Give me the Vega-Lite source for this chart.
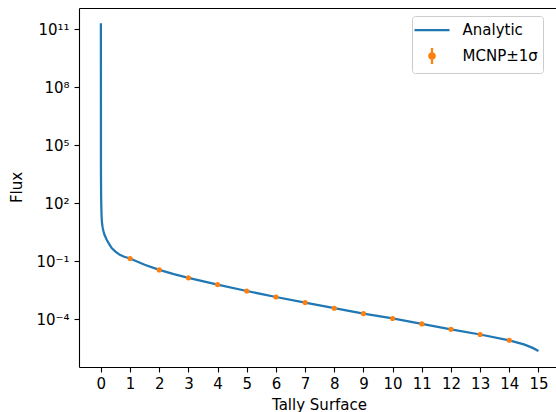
{
  "$schema": "https://vega.github.io/schema/vega-lite/v6.json",
  "width": 477,
  "height": 359,
  "autosize": "none",
  "padding": {"left": 79, "top": 8, "right": 0, "bottom": 45},
  "background": "white",
  "datasets": {
    "analytic": [
      {"x": 0, "flux": 2.0e11, "series": "Analytic"},
      {"x": 0.003, "flux": 3162, "series": "Analytic"},
      {"x": 0.008, "flux": 251, "series": "Analytic"},
      {"x": 0.015, "flux": 63, "series": "Analytic"},
      {"x": 0.024, "flux": 20.9, "series": "Analytic"},
      {"x": 0.04, "flux": 8.9, "series": "Analytic"},
      {"x": 0.06, "flux": 5.6, "series": "Analytic"},
      {"x": 0.08, "flux": 4.0, "series": "Analytic"},
      {"x": 0.12, "flux": 2.4, "series": "Analytic"},
      {"x": 0.2, "flux": 1.29, "series": "Analytic"},
      {"x": 0.28, "flux": 0.79, "series": "Analytic"},
      {"x": 0.37, "flux": 0.48, "series": "Analytic"},
      {"x": 0.5, "flux": 0.316, "series": "Analytic"},
      {"x": 0.65, "flux": 0.214, "series": "Analytic"},
      {"x": 0.8, "flux": 0.17, "series": "Analytic"},
      {"x": 1, "flux": 0.138, "series": "Analytic"},
      {"x": 1.5, "flux": 0.066, "series": "Analytic"},
      {"x": 2, "flux": 0.0355, "series": "Analytic"},
      {"x": 2.5, "flux": 0.0214, "series": "Analytic"},
      {"x": 3, "flux": 0.0138, "series": "Analytic"},
      {"x": 4, "flux": 0.00617, "series": "Analytic"},
      {"x": 5, "flux": 0.00288, "series": "Analytic"},
      {"x": 6, "flux": 0.00141, "series": "Analytic"},
      {"x": 7, "flux": 0.000724, "series": "Analytic"},
      {"x": 8, "flux": 0.000372, "series": "Analytic"},
      {"x": 9, "flux": 0.000195, "series": "Analytic"},
      {"x": 10, "flux": 0.00011, "series": "Analytic"},
      {"x": 11, "flux": 0.0000575, "series": "Analytic"},
      {"x": 12, "flux": 0.0000302, "series": "Analytic"},
      {"x": 13, "flux": 0.0000162, "series": "Analytic"},
      {"x": 14, "flux": 0.00000813, "series": "Analytic"},
      {"x": 14.5, "flux": 0.000005, "series": "Analytic"},
      {"x": 14.8, "flux": 0.0000033, "series": "Analytic"},
      {"x": 15, "flux": 0.00000229, "series": "Analytic"}
    ],
    "mcnp": [
      {"x": 1, "flux": 0.138, "series": "MCNP±1σ"},
      {"x": 2, "flux": 0.0355, "series": "MCNP±1σ"},
      {"x": 3, "flux": 0.0138, "series": "MCNP±1σ"},
      {"x": 4, "flux": 0.00617, "series": "MCNP±1σ"},
      {"x": 5, "flux": 0.00288, "series": "MCNP±1σ"},
      {"x": 6, "flux": 0.00141, "series": "MCNP±1σ"},
      {"x": 7, "flux": 0.000724, "series": "MCNP±1σ"},
      {"x": 8, "flux": 0.000372, "series": "MCNP±1σ"},
      {"x": 9, "flux": 0.000195, "series": "MCNP±1σ"},
      {"x": 10, "flux": 0.00011, "series": "MCNP±1σ"},
      {"x": 11, "flux": 0.0000575, "series": "MCNP±1σ"},
      {"x": 12, "flux": 0.0000302, "series": "MCNP±1σ"},
      {"x": 13, "flux": 0.0000162, "series": "MCNP±1σ"},
      {"x": 14, "flux": 0.00000813, "series": "MCNP±1σ"}
    ]
  },
  "layer": [
    {
      "data": {"name": "analytic"},
      "mark": {"type": "line", "strokeWidth": 2.25, "clip": true},
      "encoding": {
        "x": {
          "field": "x", "type": "quantitative",
          "scale": {"domain": [-0.75, 15.6], "nice": false, "zero": false},
          "axis": {
            "orient": "bottom",
            "values": [0,1,2,3,4,5,6,7,8,9,10,11,12,13,14,15],
            "title": "Tally Surface",
            "grid": false,
            "labelPadding": 4,
            "labelBaseline": "top",
            "titleX": 240,
            "titleY": 42,
            "titleAlign": "center",
            "titleBaseline": "alphabetic"
          }
        },
        "y": {
          "field": "flux", "type": "quantitative",
          "scale": {"type": "log", "domain": [3.39e-7, 1.23e12], "nice": false},
          "axis": {
            "values": [0.0001, 0.1, 100, 100000, 100000000, 100000000000],
            "labelExpr": "datum.value > 1e10 ? '10¹¹' : datum.value > 1e7 ? '10⁸' : datum.value > 1e4 ? '10⁵' : datum.value > 10 ? '10²' : datum.value > 0.01 ? '10⁻¹' : '10⁻⁴'",
            "title": "Flux",
            "grid": false,
            "labelPadding": 5,
            "titleX": -63,
            "titleY": 179,
            "titleAngle": 270,
            "titleAlign": "center",
            "titleBaseline": "middle"
          }
        },
        "color": {
          "field": "series", "type": "nominal",
          "scale": {"domain": ["Analytic", "MCNP±1σ"], "range": ["#1f77b4", "#ff7f0e"]},
          "legend": {
            "title": null,
            "orient": "none",
            "legendX": 333,
            "legendY": 8,
            "padding": 4.5,
            "symbolSize": 256,
            "symbolOffset": 6,
            "labelOffset": 21,
            "rowPadding": 5,
            "labelFont": "DejaVu Sans",
            "labelFontSize": 15,
            "labelColor": "black",
            "labelExpr": "datum.label + '\u2002\u2002'",
            "strokeColor": "#cccccc",
            "fillColor": "rgba(255,255,255,0.8)",
            "cornerRadius": 3,
            "encode": {
              "symbols": {
                "update": {
                  "shape": {"signal": "datum.value === 'Analytic' ? 'M-2.19,0L2.19,0' : 'M0,-1L0,1M-0.34,0A0.34,0.34 0 1,1 0.34,0A0.34,0.34 0 1,1 -0.34,0Z'"},
                  "stroke": {"signal": "datum.value === 'Analytic' ? '#1f77b4' : '#ff7f0e'"},
                  "fill": {"signal": "datum.value === 'Analytic' ? 'transparent' : '#ff7f0e'"},
                  "strokeWidth": {"value": 2.25},
                  "opacity": {"value": 1}
                }
              }
            }
          }
        }
      }
    },
    {
      "data": {"name": "mcnp"},
      "mark": {"type": "point", "filled": true, "size": 26, "opacity": 1},
      "encoding": {
        "x": {
          "field": "x", "type": "quantitative",
          "scale": {"domain": [-0.75, 15.6], "nice": false, "zero": false},
          "axis": {"orient": "top", "labels": false, "ticks": false, "title": null, "grid": false}
        },
        "y": {"field": "flux", "type": "quantitative"},
        "color": {"field": "series", "type": "nominal"}
      }
    }
  ],
  "resolve": {"axis": {"x": "independent"}},
  "config": {
    "view": {"stroke": null},
    "axis": {
      "domainColor": "black",
      "domainWidth": 1.1,
      "tickColor": "black",
      "tickWidth": 1.1,
      "tickSize": 5,
      "labelFont": "DejaVu Sans",
      "labelFontSize": 15,
      "labelColor": "black",
      "titleFont": "DejaVu Sans",
      "titleFontSize": 15,
      "titleFontWeight": "normal",
      "titleColor": "black"
    }
  }
}
